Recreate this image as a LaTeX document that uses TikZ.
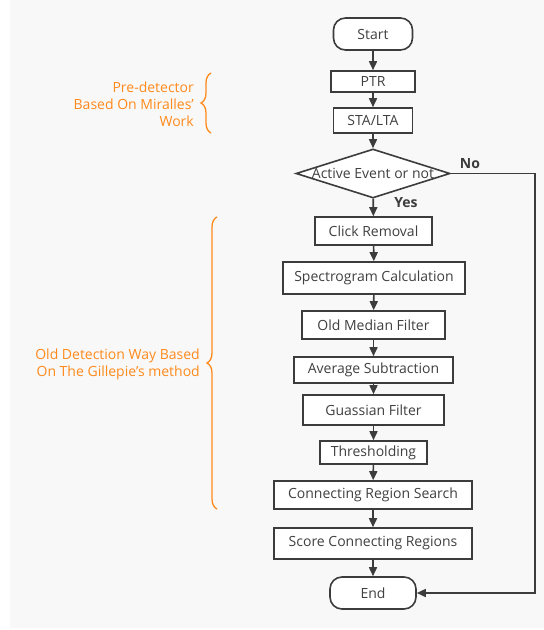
\documentclass[tikz,border=0pt]{standalone}
\usepackage{fontspec}
\setmainfont{Open Sans}
\usetikzlibrary{shapes.geometric,arrows.meta,decorations.pathreplacing}
\definecolor{linegray}{HTML}{3C3C3C}
\definecolor{textgray}{HTML}{404040}
\definecolor{noteorange}{HTML}{FF8A1C}
\definecolor{panelgray}{HTML}{F8F8F8}
\begin{document}
\begin{tikzpicture}[x=1pt,y=-1pt]
	\tikzstyle{Step} = [rectangle, draw=linegray, line width=1.6pt, fill=white, text=textgray, inner sep=0pt, font=\fontsize{14}{16}\selectfont]
	\tikzstyle{Term} = [Step, rounded corners=12pt]
	\tikzstyle{Check} = [diamond, draw=linegray, line width=1.6pt, fill=white, text=textgray, inner sep=0pt, font=\fontsize{14}{16}\selectfont]
	\tikzstyle{Note} = [text=noteorange, align=right, inner sep=0pt, font=\fontsize{14}{16.8}\selectfont]
	\tikzstyle{Flow} = [draw=linegray, line width=1.6pt, -{Triangle[length=9pt,width=8pt]}]
	\tikzstyle{Brace} = [draw=noteorange, line width=1.3pt, decorate, decoration={brace, amplitude=10pt}]
	\useasboundingbox (0,0) rectangle (544,630);
	\fill [panelgray] (10,0) rectangle (544,628);
	\node (start) at (373,34) [Term, minimum width=79, minimum height=32] {Start};
	\node (ptr) at (373,81.5) [Step, minimum width=84, minimum height=21] {PTR};
	\node (stalta) at (373,120.5) [Step, minimum width=79, minimum height=25] {STA/LTA};
	\node (check) at (373,173.5) [Check, minimum width=154, minimum height=49, label={[text=textgray, font=\fontsize{14}{16}\selectfont]center:Active Event or not}] {};
	\node (click) at (373.5,231) [Step, minimum width=117, minimum height=28] {Click Removal};
	\node (spec) at (374,278) [Step, minimum width=182, minimum height=32] {Spectrogram Calculation};
	\node (median) at (373.5,325) [Step, minimum width=143, minimum height=28] {Old Median Filter};
	\node (avg) at (373.5,370) [Step, minimum width=159, minimum height=26] {Average Subtraction};
	\node (gauss) at (373.5,410) [Step, minimum width=141, minimum height=30] {Guassian Filter};
	\node (thresh) at (373.5,452.5) [Step, minimum width=107, minimum height=23] {Thresholding};
	\node (search) at (373,495) [Step, minimum width=198, minimum height=28] {Connecting Region Search};
	\node (score) at (373,543.5) [Step, minimum width=198, minimum height=31] {Score Connecting Regions};
	\node (end) at (373,593) [Term, minimum width=86, minimum height=32] {End};
	\node (yes) at (406,203) [text=linegray, font=\fontsize{14}{16}\selectfont\bfseries] {Yes};
	\node (no) at (470,164) [text=linegray, font=\fontsize{14}{16}\selectfont\bfseries] {No};
	\coordinate (side) at (535,380);
	\draw [Flow] (start) to (ptr);
	\draw [Flow] (ptr) to (stalta);
	\draw [Flow] (stalta) to (check);
	\draw [Flow] (check) to (click);
	\draw [Flow] (click) to (spec);
	\draw [Flow] (spec) to (median);
	\draw [Flow] (median) to (avg);
	\draw [Flow] (avg) to (gauss);
	\draw [Flow] (gauss) to (thresh);
	\draw [Flow] (thresh) to (search);
	\draw [Flow] (search) to (score);
	\draw [Flow] (score) to (end);
	\draw [Flow] (check.east) -| (side) |- (end.east);
	% notes on the left
	\coordinate (pretop) at (211,73);
	\coordinate (prebot) at (211,133);
	\coordinate (oldtop) at (217,217);
	\coordinate (oldbot) at (217,509);
	\draw [Brace] (prebot) to (pretop);
	\draw [Brace] (oldbot) to (oldtop);
	\node (prenote) at (194,104.5) [Note, anchor=east] {Pre-detector\\Based On Miralles\symbol{39}\\Work};
	\node (oldnote) at (200,364.5) [Note, anchor=east] {Old Detection Way Based\\On The Gillepie\symbol{39}s method};
\end{tikzpicture}
\end{document}
